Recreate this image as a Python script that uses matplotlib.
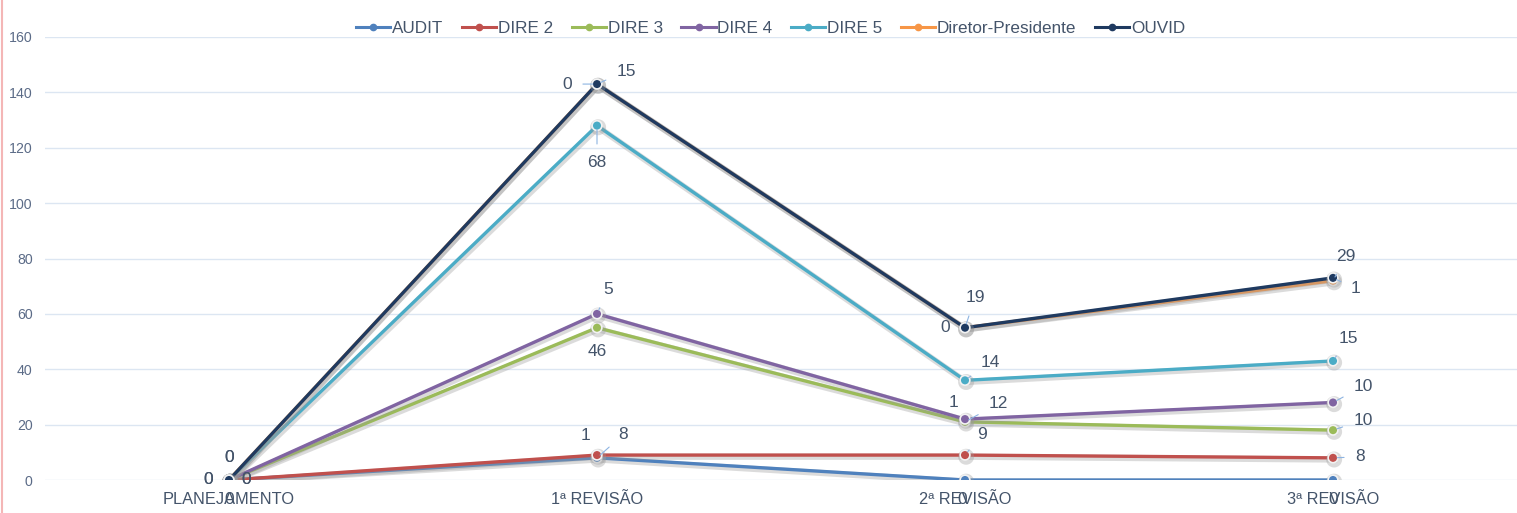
import numpy as np
import matplotlib
matplotlib.use("Agg")
import matplotlib.pyplot as plt
import matplotlib.patheffects as pe
from matplotlib.lines import Line2D

plt.rcParams['font.family'] = ['Liberation Sans', 'DejaVu Sans']

categories = ['PLANEJAMENTO', '1ª REVISÃO', '2ª REVISÃO', '3ª REVISÃO']
series = ['AUDIT', 'DIRE 2', 'DIRE 3', 'DIRE 4', 'DIRE 5', 'Diretor-Presidente', 'OUVID']
audit = [0, 8, 0, 0]
dire2 = [0, 1, 9, 8]
dire3 = [0, 46, 12, 10]
dire4 = [0, 5, 1, 10]
dire5 = [0, 68, 14, 15]
presidente = [0, 15, 19, 29]
ouvid = [0, 0, 0, 1]
colors = ['#4F81BD', '#C0504D', '#9BBB59', '#8064A2', '#4BACC6', '#F79646', '#1F3A60']

values = np.array([audit, dire2, dire3, dire4, dire5, presidente, ouvid])
stacked = np.cumsum(values, axis=0)  # stacked line chart

# label offsets in pixels (dx, dy) and whether a leader line is drawn
offsets = [
    [(0, -20), (26, 23), (-3, -20), (0, -20)],
    [(17, 0), (-11, 20), (17, 21), (27, 1)],
    [(17, 0), (0, -24), (33, 18), (30, 10)],
    [(-21, 0), (11, 24), (-12, 17), (30, 16)],
    [(-21, 0), (0, -37), (25, 18), (15, 22)],
    [(0, 22), (29, 13), (10, 30), (13, 24)],
    [(0, 22), (-30, 0), (-20, 0), (23, -11)],
]
leaders = [
    [0, 1, 0, 0],
    [0, 0, 1, 1],
    [0, 0, 1, 1],
    [0, 1, 0, 1],
    [0, 1, 1, 1],
    [0, 1, 1, 1],
    [0, 1, 0, 1],
]

fig = plt.figure(figsize=(15.17, 5.13), dpi=100)
ax = fig.add_axes([45 / 1517, 33 / 513, 1 - 45 / 1517, 443 / 513])

x = np.arange(len(categories))
shadow = [pe.SimpleLineShadow(offset=(0.8, -1.2), shadow_color='#9a9a9a', alpha=0.35, linewidth=4.5),
          pe.Normal()]
handles = []
for i, name in enumerate(series):
    ax.plot(x, stacked[i], color=colors[i], lw=2.4, marker='o', ms=7,
            markeredgecolor='#f2f2f2', markeredgewidth=1.2,
            path_effects=shadow, zorder=3 + i)
    handles.append(Line2D([], [], color=colors[i], lw=2.2, marker='o', ms=4.5,
                          markeredgecolor=colors[i], label=name))
    for j in range(len(categories)):
        dx, dy = offsets[i][j]
        ax.annotate(str(values[i][j]), (x[j], stacked[i][j]), xytext=(dx, dy),
                    textcoords='offset pixels', ha='center', va='center',
                    fontsize=12.5, color='#44546A', zorder=20,
                    arrowprops=dict(arrowstyle='-', color='#8DB4E2', lw=0.8,
                                    shrinkA=6, shrinkB=3) if leaders[i][j] else None)

ax.set_xlim(-0.5, 3.5)
ax.set_ylim(0, 160)
ax.set_yticks(np.arange(0, 161, 20))
ax.set_xticks(x)
ax.set_xticklabels(categories, fontsize=11.8, color='#44546A')
ax.tick_params(axis='y', labelsize=10.2, colors='#5B6B87', length=0, pad=9)
ax.tick_params(axis='x', length=0, pad=9)
ax.grid(axis='y', color='#DCE6F2', lw=1)
ax.set_axisbelow(True)
for s in ax.spines.values():
    s.set_visible(False)

fig.legend(handles=handles, loc='center', bbox_to_anchor=(0.508, 0.945), ncol=7,
           frameon=False, fontsize=12.3, handlelength=2.0, handletextpad=0.1,
           columnspacing=1.1, labelcolor='#44546A')

fig.add_artist(Line2D([0.001, 0.001], [0, 1], color='#F4B6B6', lw=1.5))

plt.savefig('out.png')
plt.close()
